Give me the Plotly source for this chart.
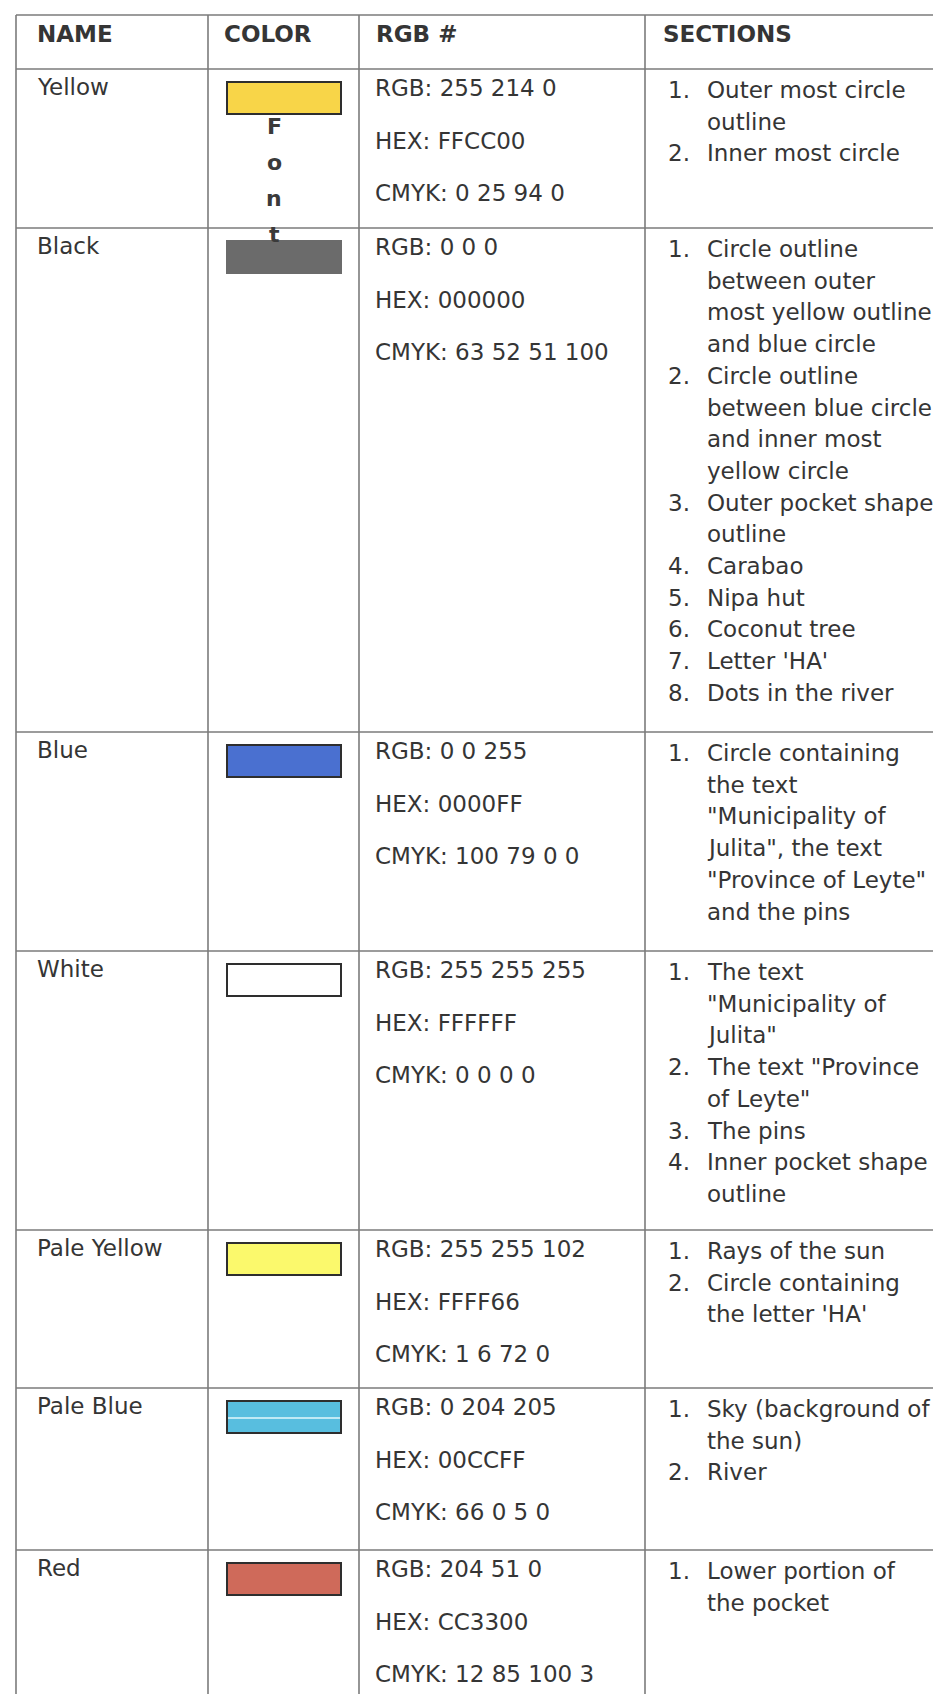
import plotly.graph_objects as go
import numpy as np

# ---------------- data ----------------
headers = ["NAME", "COLOR", "RGB #", "SECTIONS"]
names = ["Yellow", "Black", "Blue", "White", "Pale Yellow", "Pale Blue", "Red"]
swatch_colors = ["#f8d548", "#6b6b6b", "#4a70d0", "#ffffff", "#fbf96c", "#58bedf", "#cf6a5a"]
rgb_values = ["255 214 0", "0 0 0", "0 0 255", "255 255 255", "255 255 102", "0 204 205", "204 51 0"]
hex_values = ["FFCC00", "000000", "0000FF", "FFFFFF", "FFFF66", "00CCFF", "CC3300"]
cmyk_values = ["0 25 94 0", "63 52 51 100", "100 79 0 0", "0 0 0 0", "1 6 72 0", "66 0 5 0", "12 85 100 3"]
sections = [
    [["Outer most circle", "outline"], ["Inner most circle"]],
    [["Circle outline", "between outer", "most yellow outline", "and blue circle"],
     ["Circle outline", "between blue circle", "and inner most", "yellow circle"],
     ["Outer pocket shape", "outline"], ["Carabao"], ["Nipa hut"], ["Coconut tree"],
     ["Letter 'HA'"], ["Dots in the river"]],
    [["Circle containing", "the text", "\"Municipality of", "Julita\", the text",
      "\"Province of Leyte\"", "and the pins"]],
    [["The text", "\"Municipality of", "Julita\""], ["The text \"Province", "of Leyte\""],
     ["The pins"], ["Inner pocket shape", "outline"]],
    [["Rays of the sun"], ["Circle containing", "the letter 'HA'"]],
    [["Sky (background of", "the sun)"], ["River"]],
    [["Lower portion of", "the pocket"]],
]
font_label = ["F", "o", "n", "t"]

# ---------------- layout constants ----------------
W, H = 941, 1694
COL_X = [8, 200, 351, 637, 937]
TOP = 7
HEADER_H = 54
ROW_H = [159, 504, 219, 279, 158, 162, 152]
LINE_COLOR = "#7b7b7b"
TEXT_COLOR = "#353535"
FONT = "DejaVu Sans"
FS = 23
INFO_LH = 52.5
SEC_LH = 31.7

row_tops = TOP + HEADER_H + np.concatenate([[0], np.cumsum(ROW_H)[:-1]])
row_bottoms = row_tops + np.array(ROW_H)

fig = go.Figure()
shapes = []
annotations = []

# grid lines
h_lines = [TOP, TOP + HEADER_H] + list(row_bottoms[:-1])
for y in h_lines:
    shapes.append(dict(type="line", x0=COL_X[0], x1=COL_X[-1], y0=y, y1=y,
                       line=dict(color=LINE_COLOR, width=1.6), layer="below"))
for x in COL_X:
    shapes.append(dict(type="line", x0=x, x1=x, y0=TOP, y1=H,
                       line=dict(color=LINE_COLOR, width=1.6), layer="below"))

def txt(x, y, s, bold=False, size=FS, anchor="left"):
    annotations.append(dict(x=x, y=y, text=("<b>%s</b>" % s) if bold else s,
                            showarrow=False, xanchor=anchor, yanchor="middle",
                            font=dict(family=FONT, size=size, color=TEXT_COLOR)))

# header
header_x = [COL_X[0] + 19, COL_X[1] + 14, COL_X[2] + 15, COL_X[3] + 16]
for hx, h in zip(header_x, headers):
    txt(hx, TOP + 19, h, bold=True)

for i, name in enumerate(names):
    top = row_tops[i]
    txt(COL_X[0] + 19, top + 18, name)
    # swatch
    shapes.append(dict(type="rect", x0=COL_X[1] + 19, x1=COL_X[1] + 133,
                       y0=top + 13, y1=top + 45, fillcolor=swatch_colors[i],
                       line=dict(color="#2e2e2e" if name != "Black" else swatch_colors[i], width=2)))
    # rgb info
    for k, s in enumerate(["RGB: " + rgb_values[i], "HEX: " + hex_values[i], "CMYK: " + cmyk_values[i]]):
        txt(COL_X[2] + 14, top + 19 + k * INFO_LH, s)
    # sections list
    ln = 0
    for n, item in enumerate(sections[i]):
        txt(COL_X[3] + 21, top + 21 + ln * SEC_LH, "%d." % (n + 1))
        for line in item:
            txt(COL_X[3] + 60, top + 21 + ln * SEC_LH, line)
            ln += 1

# pale blue swatch highlight line
pb = names.index("Pale Blue")
shapes.append(dict(type="line", x0=COL_X[1] + 20, x1=COL_X[1] + 132,
                   y0=row_tops[pb] + 30, y1=row_tops[pb] + 30,
                   line=dict(color="#bfe9f5", width=2)))

# vertical "Font" label under the yellow swatch
for k, ch in enumerate(font_label):
    annotations.append(dict(x=COL_X[1] + 66, y=row_tops[0] + 57 + k * 36, text="<b>%s</b>" % ch,
                            showarrow=False, xanchor="center", yanchor="middle",
                            font=dict(family="DejaVu Sans", size=22, color="#3a3a3a")))

fig.update_layout(
    width=W, height=H, margin=dict(l=0, r=0, t=0, b=0),
    paper_bgcolor="white", plot_bgcolor="white",
    xaxis=dict(range=[0, W], visible=False, fixedrange=True),
    yaxis=dict(range=[H, 0], visible=False, fixedrange=True),
    shapes=shapes, annotations=annotations, showlegend=False,
)
fig.write_html("out.html")
